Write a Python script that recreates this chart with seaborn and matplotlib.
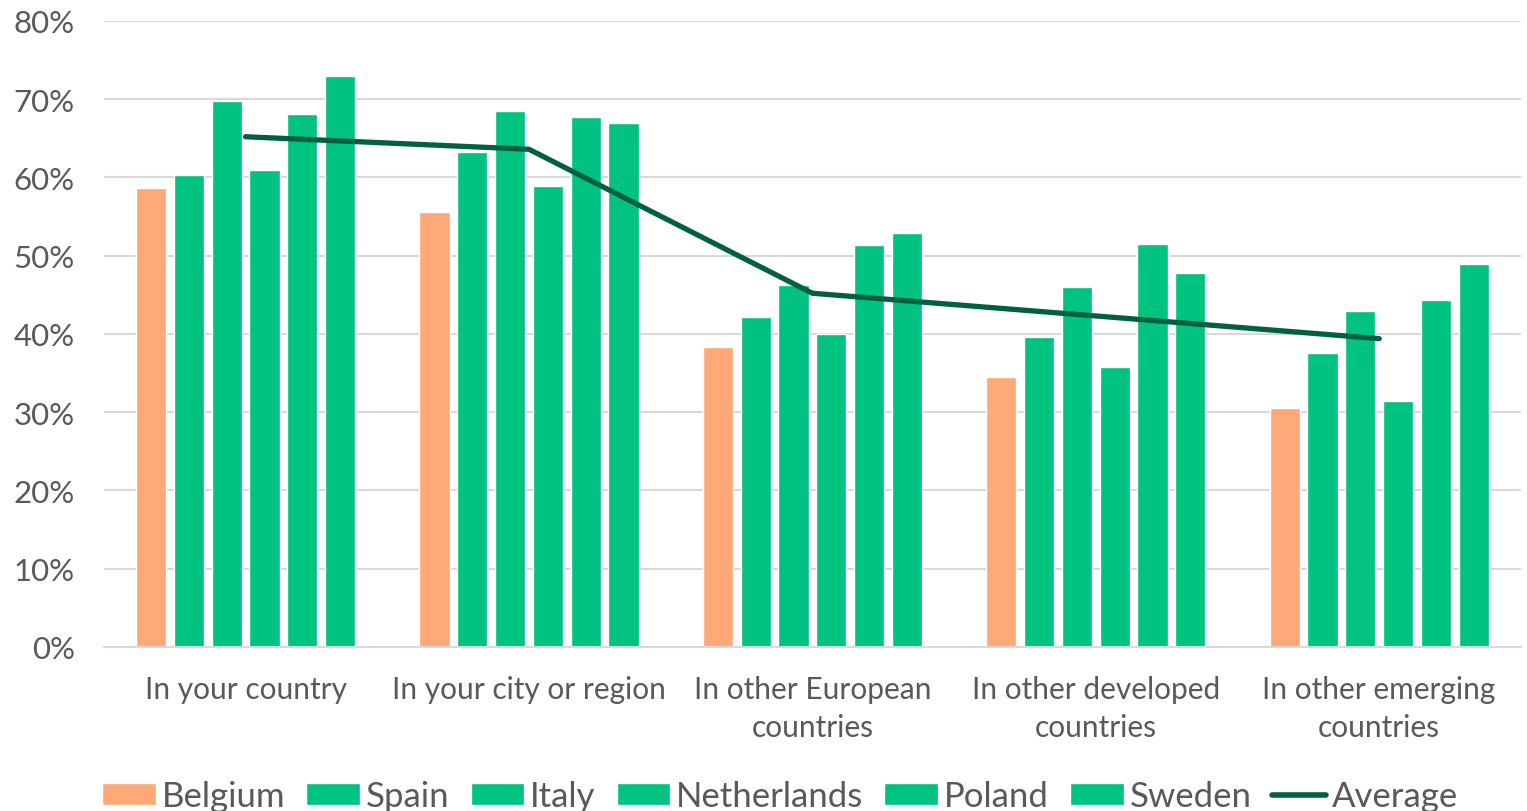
import numpy as np
import pandas as pd
import matplotlib
matplotlib.use('Agg')
import matplotlib.pyplot as plt
import seaborn as sns
from matplotlib.ticker import PercentFormatter
from matplotlib.patches import Patch
from matplotlib.lines import Line2D

# data
categories = ['In your country', 'In your city or region', 'In other European\ncountries',
              'In other developed\ncountries', 'In other emerging\ncountries']
countries = ['Belgium', 'Spain', 'Italy', 'Netherlands', 'Poland', 'Sweden']
belgium = [58.7, 55.6, 38.3, 34.5, 30.5]
spain = [60.3, 63.3, 42.2, 39.6, 37.6]
italy = [69.8, 68.5, 46.3, 46.0, 42.9]
netherlands = [61.0, 58.9, 40.0, 35.8, 31.4]
poland = [68.1, 67.7, 51.4, 51.5, 44.3]
sweden = [73.0, 67.0, 52.9, 47.8, 48.9]
average = [65.2, 63.6, 45.2, 42.3, 39.4]

orange = '#FFA878'
green = '#00C281'
dark_green = '#006040'
grey_text = '#595959'

# long table for seaborn
rows = []
for name, vals in zip(countries, [belgium, spain, italy, netherlands, poland, sweden]):
    for cat, v in zip(categories, vals):
        rows.append({'category': cat, 'country': name, 'value': v})
df = pd.DataFrame(rows)

sns.set_style('white')
plt.rcParams['font.family'] = ['Lato', 'DejaVu Sans']

fig = plt.figure(figsize=(15.27, 8.12), dpi=100)
ax = fig.add_axes([0.068, 0.202, 0.928, 0.771])

palette = {c: (orange if c == 'Belgium' else green) for c in countries}
sns.barplot(data=df, x='category', y='value', hue='country', order=categories,
            hue_order=countries, palette=palette, width=0.8, gap=0.2,
            saturation=1, legend=False, ax=ax, zorder=2)

line_df = pd.DataFrame({'pos': np.arange(len(categories)), 'avg': average})
sns.lineplot(data=line_df, x='pos', y='avg', color=dark_green, linewidth=3.8,
             solid_capstyle='round', ax=ax, zorder=3)

ax.set_ylim(0, 80)
ax.set_xlim(-0.5, len(categories) - 0.5)
ax.set_yticks(np.arange(0, 81, 10))
ax.yaxis.set_major_formatter(PercentFormatter(decimals=0))
ax.set_xticks(np.arange(len(categories)))
ax.set_xticklabels(categories, linespacing=1.45)
ax.grid(axis='y', color='#D9D9D9', linewidth=1.5, zorder=0)
ax.set_axisbelow(True)
for s in ['left', 'right', 'top']:
    ax.spines[s].set_visible(False)
ax.spines['bottom'].set_color('#D9D9D9')
ax.spines['bottom'].set_linewidth(1.5)
ax.tick_params(axis='both', length=0, colors=grey_text)
ax.tick_params(axis='x', pad=20, labelsize=21.5)
ax.tick_params(axis='y', pad=21, labelsize=22.5)
ax.set_xlabel('')
ax.set_ylabel('')

handles = [Patch(facecolor=palette[c]) for c in countries]
handles.append(Line2D([0], [0], color=dark_green, linewidth=4))
leg = fig.legend(handles, countries + ['Average'], loc='center', ncol=7,
                 bbox_to_anchor=(0.511, 0.018), frameon=False, fontsize=25,
                 handlelength=1.55, handleheight=0.6, handletextpad=0.17,
                 columnspacing=0.6, labelcolor=grey_text)

fig.savefig('out.png', dpi=100)
